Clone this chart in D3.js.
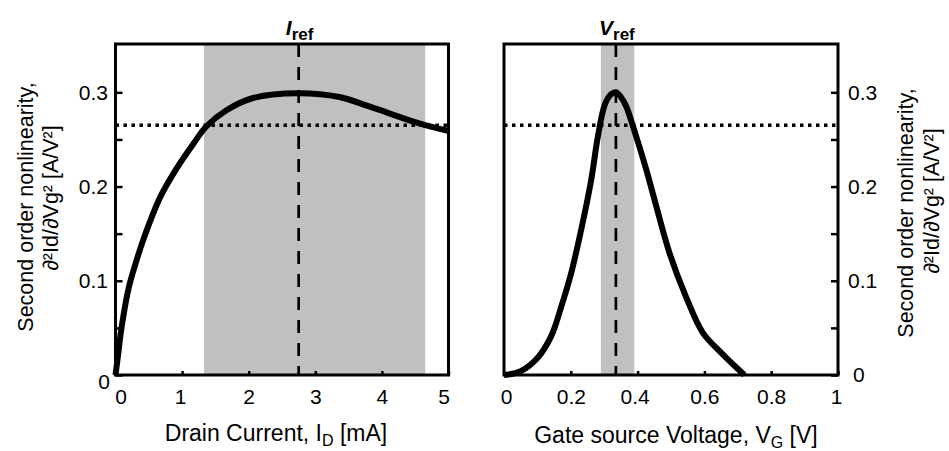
<!DOCTYPE html>
<html>
<head>
<meta charset="utf-8">
<script src="https://cdn.jsdelivr.net/npm/d3@7"></script>
<style>
  html, body { margin: 0; padding: 0; background: #fff; }
  svg { display: block; font-family: "Liberation Sans", Arial, Helvetica, sans-serif; }
</style>
</head>
<body>
<svg id="chart" width="949" height="451"></svg>
<script>
// Second-order nonlinearity vs drain current (mA)
const drainCurrent = [0, 0.04, 0.09, 0.2, 0.3, 0.44, 0.666, 0.916, 1.165, 1.366, 1.666, 2.065, 2.74, 3.36, 3.81, 4.56, 5.0];
const nonlinVsCurrent = [0, 0.022, 0.05, 0.093, 0.118, 0.148, 0.188, 0.219, 0.245, 0.264, 0.281, 0.294, 0.299, 0.295, 0.285, 0.267, 0.259];

// Second-order nonlinearity vs gate-source voltage (V)
const gateVoltage = [0, 0.05, 0.10, 0.141, 0.171, 0.201, 0.231, 0.261, 0.281, 0.301, 0.318, 0.335, 0.352, 0.366, 0.396, 0.426, 0.456, 0.496, 0.545, 0.595, 0.655, 0.72];
const nonlinVsVoltage = [0, 0.004, 0.018, 0.041, 0.072, 0.108, 0.154, 0.207, 0.253, 0.286, 0.297, 0.300, 0.294, 0.285, 0.253, 0.218, 0.179, 0.129, 0.083, 0.045, 0.022, 0.0];

// Reference points, optimal bands and threshold level
const iRef = 2.75;
const iBand = [1.33, 4.65];
const vRef = 0.335;
const vBand = [0.29, 0.39];
const threshold = 0.265;

// Axis ticks
const currentTicks = [0, 1, 2, 3, 4, 5];
const voltageTicks = [0, 0.2, 0.4, 0.6, 0.8, 1];
const nonlinTicks = [0, 0.05, 0.1, 0.15, 0.2, 0.25, 0.3];
const nonlinLabels = ["0", "", "0.1", "", "0.2", "", "0.3"];
const voltageLabels = ["0", "0.2", "0.4", "0.6", "0.8", "1"];

const svg = d3.select("#chart");
const yTop = 44, yBottom = 375;

const y = d3.scaleLinear().domain([0, 0.3513]).range([yBottom, yTop]);
const xI = d3.scaleLinear().domain([0, 5]).range([115.5, 448.5]);
const xV = d3.scaleLinear().domain([0, 1]).range([504, 838]);

function panel(x, xs, ys, ref, band, refName, side, xTickVals, xTickFmt, xLabelParts, xLabelX, xLabelY, nudges) {
  const g = svg.append("g");
  const [x0, x1] = x.range();

  // optimal band
  g.append("rect")
    .attr("x", x(band[0])).attr("y", yTop)
    .attr("width", x(band[1]) - x(band[0])).attr("height", yBottom - yTop)
    .attr("fill", "#c0c0c0");

  // curve
  const pts = xs.map((v, i) => [v, ys[i]]);
  g.append("path")
    .datum(pts)
    .attr("d", d3.line().x(d => x(d[0])).y(d => y(d[1])).curve(d3.curveCatmullRom.alpha(0.5)))
    .attr("fill", "none").attr("stroke", "#000")
    .attr("stroke-width", 6).attr("stroke-linejoin", "round").attr("stroke-linecap", "butt");

  // threshold (dotted)
  g.append("line")
    .attr("x1", x0).attr("x2", x1)
    .attr("y1", y(threshold)).attr("y2", y(threshold))
    .attr("stroke", "#000").attr("stroke-width", 3.5).attr("stroke-dasharray", "3.5,4.5");

  // reference (dashed)
  g.append("line")
    .attr("x1", x(ref)).attr("x2", x(ref))
    .attr("y1", yTop).attr("y2", yBottom)
    .attr("stroke", "#000").attr("stroke-width", 2.7).attr("stroke-dasharray", "13,10");

  // x axis
  const xa = g.append("g")
    .attr("transform", `translate(0,${yBottom})`)
    .call(d3.axisBottom(x).tickValues(xTickVals).tickFormat(xTickFmt)
      .tickSizeInner(-4).tickSizeOuter(0).tickPadding(14));
  xa.select(".domain").remove();
  xa.selectAll(".tick line").attr("stroke", "#000").attr("stroke-width", 2.5);
  xa.selectAll(".tick text").attr("font-size", 21).attr("fill", "#000")
    .attr("font-family", "Liberation Sans, Arial, sans-serif")
    .attr("transform", (d, i) => `translate(${nudges.x[i] || 0},0)`);

  // y axis
  const yAxis = side === "left"
    ? d3.axisLeft(y).tickPadding(7.5)
    : d3.axisRight(y).tickPadding(10);
  const ya = g.append("g")
    .attr("transform", `translate(${side === "left" ? x0 : x1},0)`)
    .call(yAxis.tickValues(nonlinTicks).tickFormat((d, i) => nonlinLabels[i])
      .tickSizeInner(-7).tickSizeOuter(0));
  ya.select(".domain").remove();
  ya.selectAll(".tick line").attr("stroke", "#000").attr("stroke-width", 2.5);
  ya.selectAll(".tick text").attr("font-size", 21).attr("fill", "#000")
    .attr("font-family", "Liberation Sans, Arial, sans-serif")
    .attr("transform", (d, i) => nudges.y[i] ? `translate(${nudges.y[i][0]},${nudges.y[i][1]})` : null);

  // frame
  g.append("rect")
    .attr("x", x0).attr("y", yTop)
    .attr("width", x1 - x0).attr("height", yBottom - yTop)
    .attr("fill", "none").attr("stroke", "#000").attr("stroke-width", 3);

  // title over reference line
  const t = g.append("text")
    .attr("x", x(ref) + 1).attr("y", 35)
    .attr("text-anchor", "middle").attr("font-weight", "bold");
  t.append("tspan").attr("font-style", "italic").attr("font-size", 21).text(refName);
  t.append("tspan").attr("font-size", 17).attr("dy", 5).text("ref");

  // x-axis label
  const xl = g.append("text")
    .attr("x", xLabelX).attr("y", xLabelY)
    .attr("text-anchor", "middle").attr("font-size", 23);
  xl.append("tspan").text(xLabelParts[0]);
  xl.append("tspan").attr("font-size", 16).attr("dy", 5).text(xLabelParts[1]);
  xl.append("tspan").attr("dy", -5).text(xLabelParts[2]);
}

panel(xI, drainCurrent, nonlinVsCurrent, iRef, iBand, "I", "left",
  currentTicks, d3.format("d"),
  ["Drain Current, I", "D", " [mA]"], 276, 441,
  { x: [5, -2, 0, 0, 0, -5], y: [[2, 7]] });

panel(xV, gateVoltage, nonlinVsVoltage, vRef, vBand, "V", "right",
  voltageTicks, (d, i) => voltageLabels[i],
  ["Gate source Voltage, V", "G", "  [V]"], 676, 443,
  { x: [2, 0, -3, 0, 0, -2], y: [[5, 0]] });

// rotated y-axis titles
function yTitle(cx1, cy1, cx2, cy2) {
  svg.append("text")
    .attr("transform", `translate(${cx1},${cy1}) rotate(-90)`)
    .attr("text-anchor", "middle").attr("dominant-baseline", "central")
    .attr("font-size", 21.5)
    .text("Second order nonlinearity,");
  svg.append("text")
    .attr("transform", `translate(${cx2},${cy2}) rotate(-90)`)
    .attr("text-anchor", "middle").attr("dominant-baseline", "central")
    .attr("font-size", 21.5)
    .text("\u2202\u00B2Id/\u2202Vg\u00B2 [A/V\u00B2]");
}
yTitle(26, 207, 51, 198);
yTitle(906, 213, 932, 201);
</script>
</body>
</html>
